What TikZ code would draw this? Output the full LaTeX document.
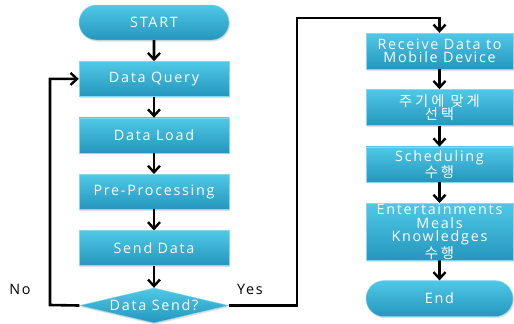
\documentclass[tikz,border=0pt]{standalone}
\usepackage{fontspec}
\setmainfont{Open Sans}[LetterSpace=12]
\newfontfamily\krfont{Noto Sans CJK KR}[LetterSpace=20]
\usetikzlibrary{positioning}
\usetikzlibrary{arrows.meta}
\usetikzlibrary{shapes.geometric,shapes.misc,shadows}
\definecolor{boxtop}{HTML}{4FC8E6}
\definecolor{boxbot}{HTML}{2596BE}
\tikzset{>={Straight Barb[width=12bp,length=6.5bp,line width=2.4bp]}}
\tikzset{
  flowbox/.style={rectangle, minimum width=150bp, minimum height=35bp, inner sep=0bp,
    top color=boxtop, bottom color=boxbot, draw=boxtop!70!white, line width=0.4bp,
    text=white, align=center, font=\fontsize{14.4}{13.6}\selectfont,
    drop shadow={opacity=0.25, shadow xshift=1bp, shadow yshift=-1.5bp}},
  flowend/.style={flowbox, rounded rectangle},
  flowjoin/.style={flowbox, diamond, minimum width=149bp, minimum height=35bp, aspect=4.3, inner sep=0pt},
  flowline/.style={line width=2.6bp, ->},
}

\begin{document}
\begin{tikzpicture}[x=1bp, y=-1bp, node distance=21bp]
\useasboundingbox (0,0) rectangle (514,323);

% main loop
\node (start) [flowend] at (154,22.5) {START};
\node (dq) [flowbox, below=of start] {Data Query};
\node (dl) [flowbox, below=of dq] {Data Load};
\node (pp) [flowbox, below=of dl] {Pre-Processing};
\node (sd) [flowbox, below=of pp] {Send Data};
\node (ds) [flowjoin, below=22bp of sd] {Data Send?};
\node (no) [font=\fontsize{14.4}{15}\selectfont] at (20,289) {No};
\node (yes) [font=\fontsize{14.4}{15}\selectfont] at (250,289) {Yes};

% mobile side
\node (rcv) [flowbox, minimum width=147bp, minimum height=36bp] at (439.5,51) {Receive Data to\\Mobile Device};
\node (sel) [flowbox, minimum width=147bp, minimum height=36bp, below=20bp of rcv] {{\krfont 주기에 맞게}\\{\krfont 선택}};
\node (sch) [flowbox, minimum width=147bp, below=21bp of sel] {Scheduling\\{\krfont 수행}};
\node (ent) [flowbox, minimum width=147bp, minimum height=57bp, below=21bp of sch] {Entertainments\\Meals\\Knowledges\\{\krfont 수행}};
\node (end) [flowend, minimum width=147bp, minimum height=36bp, below=20bp of ent] {End};

\coordinate (back) at (50,305);
\coordinate (up) at (297,18);

\draw [flowline] (start) -- (dq);
\draw [flowline] (dq) -- (dl);
\draw [flowline] (dl) -- (pp);
\draw [flowline] (pp) -- (sd);
\draw [flowline] (sd) -- (ds);
\draw [flowline] (ds.west) -- (back) |- (dq.west);
\draw [flowline] (ds.east) -| (up) -| (rcv.north);
\draw [flowline] (rcv) -- (sel);
\draw [flowline] (sel) -- (sch);
\draw [flowline] (sch) -- (ent);
\draw [flowline] (ent) -- (end);
\end{tikzpicture}
\end{document}
